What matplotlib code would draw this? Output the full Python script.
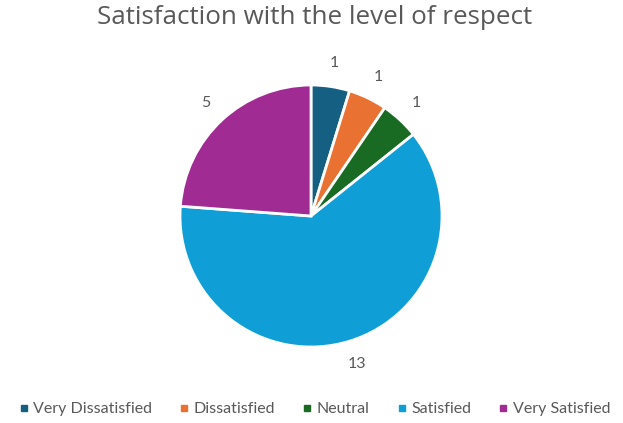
import matplotlib.pyplot as plt
import numpy as np

# survey responses
categories = ["Very Dissatisfied", "Dissatisfied", "Neutral", "Satisfied", "Very Satisfied"]
counts = [1, 1, 1, 13, 5]
colors = ["#156082", "#E97132", "#196B24", "#0F9ED5", "#A02B93"]

plt.rcParams['font.family'] = ['Lato', 'DejaVu Sans']
text_grey = "#595959"

fig = plt.figure(figsize=(6.23, 4.23), dpi=100)
fig.patch.set_facecolor("white")

ax = fig.add_axes([180 / 623, 76 / 423, 262 / 623, 262 / 423])
wedges, texts = ax.pie(counts, colors=colors, startangle=90, counterclock=False,
                       labels=[str(c) for c in counts], labeldistance=1.18,
                       wedgeprops=dict(edgecolor="white", linewidth=2),
                       textprops=dict(color=text_grey, fontsize=11.5))
for t in texts:
    t.set_ha("center")
    t.set_va("center")
ax.set_xlim(-1, 1)
ax.set_ylim(-1, 1)
ax.set_aspect("equal")

fig.text(315 / 623, 1 - 18 / 423, "Satisfaction with the level of respect",
         ha="center", va="center", fontsize=18.7, color=text_grey, family="Open Sans")

handles = [plt.Line2D([], [], marker="s", linestyle="none", markersize=5,
                      markerfacecolor=c, markeredgecolor=c) for c in colors]
fig.legend(handles, categories, loc="center", bbox_to_anchor=(313 / 623, 1 - 409 / 423),
           ncol=5, frameon=False, fontsize=11.5, labelcolor=text_grey,
           handletextpad=0.1, columnspacing=1.5, handlelength=1.0,
           borderpad=0.1, borderaxespad=0)

fig.savefig("out.png", dpi=100)
